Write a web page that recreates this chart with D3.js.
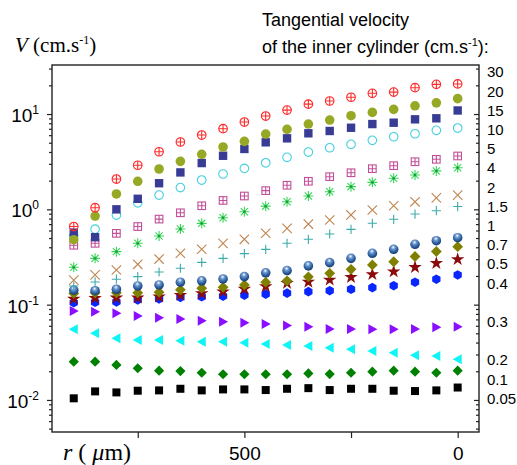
<!DOCTYPE html>
<html lang="en">
<head>
  <meta charset="UTF-8">
  <title>Velocity profiles</title>
  <script src="https://d3js.org/d3.v7.min.js"></script>
  <style>
    body { margin: 0; background: #fff; }
    svg text { font-family: 'Liberation Sans', Arial, sans-serif; fill: #000; }
    .serif { font-family: 'Liberation Serif', 'Times New Roman', serif !important; }
  </style>
</head>
<body>
  <div id="chart"></div>
  <script>
    // radial positions (µm), from the outer side to the inner cylinder
    const radius = [900, 850, 800, 750, 700, 650, 600, 550, 500, 450, 400, 350, 300, 250, 200, 150, 100, 50, 0];

    // tangential velocity of the inner cylinder (cm/s), one series each
    const velocityLabels = ["30", "20", "15", "10", "5", "4", "2", "1.5", "1", "0.7", "0.5", "0.4", "0.3", "0.2", "0.1", "0.05"];

    const v30  = [0.66, 1.04, 2.08, 2.90, 4.02, 5.09, 6.02, 7.02, 8.24, 9.53, 11.0, 12.7, 13.7, 15.0, 16.5, 17.0, 18.9, 20.5, 20.7];
    const v20  = [0.48, 0.85, 1.45, 1.97, 2.65, 3.19, 3.78, 4.51, 5.17, 6.17, 6.92, 7.85, 8.65, 9.60, 10.4, 11.2, 12.2, 13.1, 14.5];
    const v15  = [0.57, 0.51, 1.00, 1.29, 1.88, 2.44, 3.06, 3.65, 4.30, 5.05, 5.56, 6.28, 6.64, 7.18, 7.85, 8.11, 8.80, 9.02, 10.9];
    const v10  = [0.53, 0.62, 0.87, 1.17, 1.41, 1.69, 2.03, 2.35, 2.69, 3.08, 3.51, 3.99, 4.43, 4.81, 5.30, 5.78, 6.21, 6.75, 7.13];
    const v5   = [0.42, 0.44, 0.56, 0.66, 0.79, 0.92, 1.09, 1.24, 1.38, 1.57, 1.79, 1.97, 2.20, 2.42, 2.67, 2.87, 3.16, 3.35, 3.63];
    const v4   = [0.247, 0.306, 0.360, 0.440, 0.525, 0.622, 0.713, 0.817, 0.944, 1.08, 1.20, 1.38, 1.53, 1.73, 1.92, 2.12, 2.29, 2.53, 2.73];
    const v2   = [0.181, 0.205, 0.231, 0.265, 0.301, 0.346, 0.381, 0.440, 0.485, 0.561, 0.632, 0.701, 0.773, 0.873, 0.985, 1.09, 1.20, 1.32, 1.41];
    const v1_5 = [0.157, 0.173, 0.185, 0.197, 0.220, 0.241, 0.278, 0.306, 0.343, 0.380, 0.441, 0.485, 0.551, 0.617, 0.714, 0.786, 0.893, 0.968, 1.07];
    const v1   = [0.142, 0.140, 0.145, 0.157, 0.161, 0.172, 0.178, 0.186, 0.197, 0.216, 0.228, 0.255, 0.276, 0.306, 0.346, 0.381, 0.430, 0.469, 0.504];
    const v0_7 = [0.131, 0.133, 0.133, 0.133, 0.135, 0.143, 0.149, 0.152, 0.161, 0.172, 0.178, 0.196, 0.213, 0.235, 0.261, 0.282, 0.320, 0.361, 0.406];
    const v0_5 = [0.115, 0.117, 0.118, 0.118, 0.121, 0.126, 0.131, 0.137, 0.146, 0.155, 0.168, 0.173, 0.182, 0.194, 0.208, 0.222, 0.247, 0.272, 0.299];
    const v0_4 = [0.105, 0.106, 0.107, 0.112, 0.115, 0.119, 0.121, 0.123, 0.126, 0.129, 0.132, 0.137, 0.140, 0.145, 0.151, 0.158, 0.172, 0.185, 0.205];
    const v0_3 = [0.0859, 0.0844, 0.0811, 0.0760, 0.0730, 0.0708, 0.0679, 0.0662, 0.0647, 0.0627, 0.0605, 0.0587, 0.0555, 0.0555, 0.0552, 0.0552, 0.0555, 0.0579, 0.0587];
    const v0_2 = [0.0552, 0.0501, 0.0444, 0.0426, 0.0426, 0.0419, 0.0409, 0.0409, 0.0399, 0.0386, 0.0377, 0.0368, 0.0354, 0.0340, 0.0327, 0.0313, 0.0294, 0.0289, 0.0267];
    const v0_1 = [0.0252, 0.0252, 0.0233, 0.0215, 0.0203, 0.0201, 0.0193, 0.0186, 0.0186, 0.0186, 0.0186, 0.0190, 0.0187, 0.0193, 0.0198, 0.0203, 0.0198, 0.0193, 0.0203];
    const v0_05 = [0.0104, 0.0123, 0.0120, 0.0125, 0.0126, 0.0131, 0.0126, 0.0129, 0.0129, 0.0127, 0.0131, 0.0133, 0.0127, 0.0131, 0.0131, 0.0125, 0.0124, 0.0126, 0.0135];

    const xTickValues = [0, 250, 500, 750];
    const xTickLabels = ["0", "", "500", ""];
    const yMajorExponents = [1, 0, -1, -2];

    // marker look for each series, same order as velocityLabels
    const styles = [
      { type: "circlePlus", color: "#ff2a2a" },
      { type: "dot", color: "#97a825" },
      { type: "square", color: "#383c94" },
      { type: "ring", color: "#45cfdf" },
      { type: "squarePlus", color: "#c24f98" },
      { type: "asterisk", color: "#3ad65a" },
      { type: "cross", color: "#bf8552" },
      { type: "plus", color: "#3eabab" },
      { type: "sphere", color: "#2b5d9e" },
      { type: "diamond", color: "#808000" },
      { type: "star", color: "#8a0b0b" },
      { type: "hexagon", color: "#0a26ff" },
      { type: "triRight", color: "#8a0fff" },
      { type: "triLeft", color: "#0ff4f4" },
      { type: "diamondS", color: "#008000" },
      { type: "squareS", color: "#000000" }
    ];
    const series = [v30, v20, v15, v10, v5, v4, v2, v1_5, v1, v0_7, v0_5, v0_4, v0_3, v0_2, v0_1, v0_05];

    const W = 517, H = 465;
    const plot = { left: 52, right: 479, top: 65, bottom: 432 };

    const svg = d3.select("#chart").append("svg")
      .attr("width", W).attr("height", H);

    const defs = svg.append("defs");
    const grad = defs.append("radialGradient").attr("id", "ball")
      .attr("cx", "45%").attr("cy", "35%").attr("r", "65%").attr("fx", "45%").attr("fy", "28%");
    grad.append("stop").attr("offset", "0%").attr("stop-color", "#ffffff");
    grad.append("stop").attr("offset", "30%").attr("stop-color", "#6f9ad0");
    grad.append("stop").attr("offset", "70%").attr("stop-color", "#2b5d9e");
    grad.append("stop").attr("offset", "100%").attr("stop-color", "#173a6a");

    const x = d3.scaleLinear().domain([951, -50]).range([plot.left, plot.right]);
    const y = d3.scaleLog().domain([0.00461, 32.7]).range([plot.bottom, plot.top]);

    // minor / major log ticks
    const minorTicks = [];
    [-3, -2, -1, 0, 1].forEach(e => {
      for (let k = 2; k <= 9; k++) {
        const v = k * Math.pow(10, e);
        if (v >= y.domain()[0] && v <= y.domain()[1]) minorTicks.push(v);
      }
    });
    const majorTicks = yMajorExponents.map(e => Math.pow(10, e));

    function yAxisAt(xpos) {
      const g = svg.append("g").attr("transform", `translate(${xpos},0)`);
      g.append("g").call(d3.axisLeft(y).tickValues(minorTicks).tickSize(3).tickFormat(""));
      g.append("g").call(d3.axisLeft(y).tickValues(majorTicks).tickSize(5).tickFormat(""));
      g.selectAll("path.domain").remove();
      g.selectAll("line").attr("stroke", "#222").attr("stroke-width", 1.2);
    }
    yAxisAt(plot.left);
    yAxisAt(plot.right);

    const xg = svg.append("g").attr("transform", `translate(0,${plot.bottom})`)
      .call(d3.axisBottom(x).tickValues(xTickValues).tickSize(6).tickPadding(9)
        .tickFormat((d, i) => xTickLabels[i]));
    xg.select("path.domain").remove();
    xg.selectAll("line").attr("stroke", "#222").attr("stroke-width", 1.2);
    xg.selectAll("text").style("font-size", "19px");

    // frame
    svg.append("rect")
      .attr("x", plot.left).attr("y", plot.top)
      .attr("width", plot.right - plot.left).attr("height", plot.bottom - plot.top)
      .attr("fill", "none").attr("stroke", "#222").attr("stroke-width", 1.4);

    // left tick labels 10^n
    yMajorExponents.forEach(e => {
      const t = svg.append("text")
        .attr("x", 39).attr("y", y(Math.pow(10, e)) + 8)
        .attr("text-anchor", "end").style("font-size", "19px");
      t.append("tspan").text("10");
      t.append("tspan").attr("dy", -8).style("font-size", "12px").text(e);
    });

    // markers
    function drawMarker(g, type, color) {
      const line = (d) => g.append("path").attr("d", d).attr("fill", "none")
        .attr("stroke", color).attr("stroke-width", 1.1);
      switch (type) {
        case "circlePlus":
          g.append("circle").attr("r", 4.3).attr("fill", "none").attr("stroke", color).attr("stroke-width", 1.1);
          line("M-4.3,0H4.3M0,-4.3V4.3");
          break;
        case "dot":
          g.append("circle").attr("r", 4.8).attr("fill", color);
          break;
        case "square":
          g.append("rect").attr("x", -4.2).attr("y", -4.2).attr("width", 8.4).attr("height", 8.4).attr("fill", color);
          break;
        case "ring":
          g.append("circle").attr("r", 4.3).attr("fill", "none").attr("stroke", color).attr("stroke-width", 1.1);
          break;
        case "squarePlus":
          g.append("rect").attr("x", -3.8).attr("y", -3.8).attr("width", 7.6).attr("height", 7.6)
            .attr("fill", "none").attr("stroke", color).attr("stroke-width", 1.1);
          line("M-3.8,0H3.8M0,-3.8V3.8");
          break;
        case "asterisk":
          line("M-5,0H5M0,-5V5M-3.6,-3.6L3.6,3.6M-3.6,3.6L3.6,-3.6");
          g.append("circle").attr("r", 1.2).attr("fill", "#1a9a3a");
          break;
        case "cross":
          line("M-4.7,-4.7L4.7,4.7M-4.7,4.7L4.7,-4.7");
          break;
        case "plus":
          line("M-4.6,0H4.6M0,-4.6V4.6");
          break;
        case "sphere":
          g.append("circle").attr("r", 4.8).attr("fill", "url(#ball)");
          break;
        case "diamond":
          g.append("path").attr("d", "M0,-5.4L5.4,0L0,5.4L-5.4,0Z").attr("fill", color);
          break;
        case "diamondS":
          g.append("path").attr("d", "M0,-5.1L5.1,0L0,5.1L-5.1,0Z").attr("fill", color);
          break;
        case "star":
          g.append("path").attr("d", d3.symbol(d3.symbolStar, 56)()).attr("fill", color);
          break;
        case "hexagon": {
          const pts = d3.range(6).map(i => {
            const a = Math.PI / 6 + i * Math.PI / 3;
            return [4.8 * Math.cos(a), 4.8 * Math.sin(a)];
          });
          g.append("path").attr("d", "M" + pts.join("L") + "Z").attr("fill", color);
          break;
        }
        case "triRight":
          g.append("path").attr("d", "M-4,-5L5,0L-4,5Z").attr("fill", color);
          break;
        case "triLeft":
          g.append("path").attr("d", "M4,-5L-5,0L4,5Z").attr("fill", color);
          break;
        case "squareS":
          g.append("rect").attr("x", -4).attr("y", -4).attr("width", 8).attr("height", 8).attr("fill", color);
          break;
      }
    }

    // draw from slowest to fastest so faster series lie on top
    d3.range(series.length - 1, -1, -1).forEach(si => {
      const st = styles[si];
      const layer = svg.append("g");
      series[si].forEach((v, i) => {
        const g = layer.append("g").attr("transform", `translate(${x(radius[i])},${y(v)})`);
        drawMarker(g, st.type, st.color);
      });
    });

    // right column of labels (rows of ~19px, with gaps around 0.3 and 0.2)
    const rowOf = (i) => i <= 11 ? i : (i === 12 ? 13 : i + 2);
    velocityLabels.forEach((lab, i) => {
      svg.append("text")
        .attr("x", 487).attr("y", 72 + rowOf(i) * 19.2)
        .attr("dy", "0.36em").style("font-size", "15px").text(lab);
    });

    // header text
    svg.append("text").attr("x", 262).attr("y", 26).style("font-size", "18px").text("Tangential velocity");
    const h2 = svg.append("text").attr("x", 262).attr("y", 53).style("font-size", "18px");
    h2.append("tspan").text("of the inner cylinder (cm.s");
    h2.append("tspan").attr("dy", -7).style("font-size", "11px").text("-1");
    h2.append("tspan").attr("dy", 7).text("):");

    // axis titles
    const yt = svg.append("text").attr("class", "serif").attr("x", 15).attr("y", 52).style("font-size", "21px");
    yt.append("tspan").style("font-style", "italic").text("V");
    yt.append("tspan").text(" (cm.s");
    yt.append("tspan").attr("dy", -8).style("font-size", "12px").text("-1");
    yt.append("tspan").attr("dy", 8).text(")");

    const xt = svg.append("text").attr("class", "serif").attr("x", 63).attr("y", 460).style("font-size", "24px");
    xt.append("tspan").style("font-style", "italic").text("r");
    xt.append("tspan").text(" ( ");
    xt.append("tspan").style("font-style", "italic").text("μ");
    xt.append("tspan").text("m)");
  </script>
</body>
</html>
